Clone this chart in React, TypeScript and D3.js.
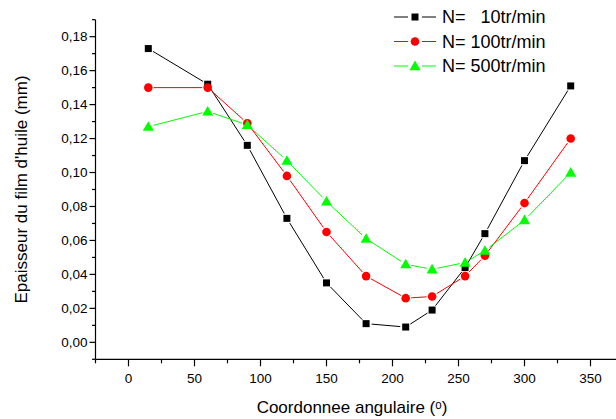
import React from "react";
import * as d3 from "d3";

const angles = [15, 60, 90, 120, 150, 180, 210, 230, 255, 270, 300, 335];
const n10 = [0.173, 0.152, 0.116, 0.073, 0.035, 0.011, 0.009, 0.019, 0.044, 0.064, 0.107, 0.151];
const n100 = [0.150, 0.150, 0.129, 0.098, 0.065, 0.039, 0.026, 0.027, 0.039, 0.051, 0.082, 0.120];
const n500 = [0.127, 0.136, 0.128, 0.107, 0.083, 0.061, 0.046, 0.043, 0.047, 0.054, 0.072, 0.100];
const seriesLabels = ["N=   10tr/min", "N= 100tr/min", "N= 500tr/min"];
const seriesColors = ["#000000", "#ff0000", "#00ff00"];
const seriesShapes = ["square", "circle", "triangle"];
const xMajor = [0, 50, 100, 150, 200, 250, 300, 350];
const yMajor = [0, 0.02, 0.04, 0.06, 0.08, 0.1, 0.12, 0.14, 0.16, 0.18];
const xTitle = "Coordonnee angulaire (ᵒ)";
const yTitle = "Epaisseur du film d'huile (mm)";

const W = 616;
const H = 419;
const FONT = "Arial, 'Liberation Sans', sans-serif";

function Marker({ shape, x, y, color, size = 1 }: any) {
  if (shape === "square") {
    const s = 7 * size;
    return <rect x={x - s / 2} y={y - s / 2} width={s} height={s} fill={color} />;
  }
  if (shape === "circle") {
    return <circle cx={x} cy={y} r={4.3 * size} fill={color} />;
  }
  const s = 5.5 * size;
  return (
    <path
      d={`M${x},${y - s} L${x + s * 1.0},${y + s * 0.75} L${x - s * 1.0},${y + s * 0.75} Z`}
      fill={color}
    />
  );
}

export default function App() {
  const x = d3.scaleLinear().domain([-25, 375]).range([95.5, 623.5]);
  const y = d3.scaleLinear().domain([-0.01, 0.19]).range([359.3, 19.7]);
  const fmt = (v: number) => d3.format(".2f")(v).replace(".", ",");
  const xMinor = d3.range(-25, 376, 25).filter((v) => !xMajor.includes(v));
  const yMinor = d3.range(-1, 20, 1).map((v) => v / 100).filter((v) => !yMajor.some((m) => Math.abs(m - v) < 1e-9));
  const data = [n10, n100, n500];
  const gap = 5.5;

  const segs = (vals: number[]) => {
    const out: any[] = [];
    for (let i = 0; i < vals.length - 1; i++) {
      const x1 = x(angles[i]), y1 = y(vals[i]);
      const x2 = x(angles[i + 1]), y2 = y(vals[i + 1]);
      const dx = x2 - x1, dy = y2 - y1;
      const L = Math.hypot(dx, dy);
      if (L <= 2 * gap) continue;
      const ux = dx / L, uy = dy / L;
      out.push([x1 + ux * gap, y1 + uy * gap, x2 - ux * gap, y2 - uy * gap]);
    }
    return out;
  };

  return (
    <svg width={W} height={H} style={{ position: "absolute", left: 0, top: 0, background: "#fff" }} fontFamily={FONT}>
      <rect x={0} y={0} width={W} height={H} fill="#fff" />
      {/* axes */}
      <line x1={x(-25)} x2={x(-25)} y1={y(0.19)} y2={y(-0.01)} stroke="#000" strokeWidth={1.2} />
      <line x1={x(-25)} x2={x(375)} y1={y(-0.01)} y2={y(-0.01)} stroke="#000" strokeWidth={1.2} />
      {yMajor.map((v) => (
        <g key={"ym" + v}>
          <line x1={x(-25) - 6} x2={x(-25)} y1={y(v)} y2={y(v)} stroke="#000" strokeWidth={1.2} />
          <text x={x(-25) - 8} y={y(v)} dy="0.35em" textAnchor="end" fontSize={13.5}>{fmt(v)}</text>
        </g>
      ))}
      {yMinor.map((v) => (
        <line key={"yn" + v} x1={x(-25) - 3.5} x2={x(-25)} y1={y(v)} y2={y(v)} stroke="#000" strokeWidth={1.2} />
      ))}
      {xMajor.map((v) => (
        <g key={"xm" + v}>
          <line x1={x(v)} x2={x(v)} y1={y(-0.01)} y2={y(-0.01) + 7} stroke="#000" strokeWidth={1.2} />
          <text x={x(v)} y={y(-0.01) + 24} textAnchor="middle" fontSize={13.5}>{v}</text>
        </g>
      ))}
      {xMinor.map((v) => (
        <line key={"xn" + v} x1={x(v)} x2={x(v)} y1={y(-0.01)} y2={y(-0.01) + 4} stroke="#000" strokeWidth={1.2} />
      ))}
      <text x={352} y={413} textAnchor="middle" fontSize={17}>{xTitle}</text>
      <text transform={`translate(27,${(y(0.19) + y(-0.01)) / 2}) rotate(-90)`} textAnchor="middle" fontSize={17}>{yTitle}</text>

      {/* series */}
      {data.map((vals, si) => (
        <g key={"s" + si}>
          {segs(vals).map((s, i) => (
            <line key={i} x1={s[0]} y1={s[1]} x2={s[2]} y2={s[3]} stroke={seriesColors[si]} strokeWidth={1} />
          ))}
          {vals.map((v, i) => (
            <Marker key={i} shape={seriesShapes[si]} x={x(angles[i])} y={y(v)} color={seriesColors[si]} />
          ))}
        </g>
      ))}

      {/* legend */}
      {seriesLabels.map((lab, i) => {
        const ly = 17 + i * 24.5;
        return (
          <g key={"l" + i}>
            <line x1={394} x2={408} y1={ly} y2={ly} stroke={seriesColors[i]} strokeWidth={1} />
            <line x1={422} x2={436} y1={ly} y2={ly} stroke={seriesColors[i]} strokeWidth={1} />
            <Marker shape={seriesShapes[i]} x={415} y={ly} color={seriesColors[i]} />
            <text x={442} y={ly} dy="0.35em" fontSize={18} style={{ whiteSpace: "pre" }}>{lab}</text>
          </g>
        );
      })}
    </svg>
  );
}
